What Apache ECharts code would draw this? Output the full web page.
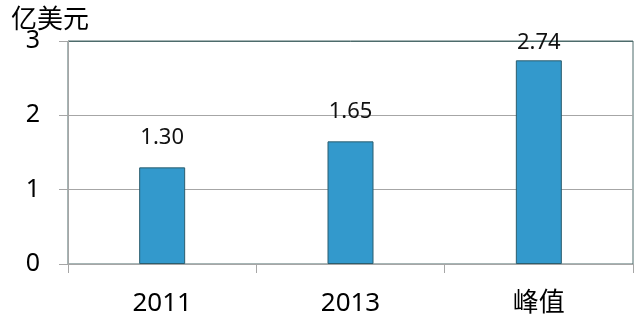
<!DOCTYPE html>
<html>
<head>
<meta charset="utf-8">
<script src="https://cdn.jsdelivr.net/npm/echarts@6/dist/echarts.min.js"></script>
<style>
  html, body { margin: 0; padding: 0; background: #fff; }
  #chart { width: 644px; height: 329px; }
</style>
</head>
<body>
<div id="chart"></div>
<script>
const categories = ['2011', '2013', '峰值'];
const values = [1.30, 1.65, 2.74];
const yTicks = [0, 1, 2, 3];

const font = '"Noto Sans", "Noto Sans CJK SC", sans-serif';

const chart = echarts.init(document.getElementById('chart'));
chart.setOption({
  animation: false,
  backgroundColor: '#fff',
  title: {
    text: '亿美元',
    left: 6,
    top: 3,
    textStyle: { fontFamily: font, fontSize: 26, fontWeight: 'normal', color: '#000' },
  },
  grid: {
    left: 68,
    right: 11,
    top: 41,
    bottom: 65,
    show: true,
    borderColor: '#4d6b6b',
    borderWidth: 1,
  },
  xAxis: {
    type: 'category',
    data: categories,
    axisLine: { lineStyle: { color: '#a6a6a6' } },
    axisTick: { show: true, length: 9, lineStyle: { color: '#a6a6a6' } },
    axisLabel: { color: '#000', fontSize: 26, fontFamily: font, margin: 27 },
  },
  yAxis: {
    type: 'value',
    min: yTicks[0],
    max: yTicks[yTicks.length - 1],
    interval: 1,
    axisLine: { show: true, lineStyle: { color: '#a6a6a6' } },
    axisTick: { show: true, length: 9, lineStyle: { color: '#a6a6a6' } },
    axisLabel: { color: '#000', fontSize: 25, fontFamily: font, margin: 28 },
    splitLine: { lineStyle: { color: ['#a6a6a6', '#a6a6a6', '#a6a6a6', '#4d6b6b'] } },
  },
  series: [
    {
      type: 'bar',
      barWidth: 46,
      data: values.map((v, i) => ({
        value: v,
        // the top bar's label is squeezed against the plot edge in the original
        label: i === values.length - 1 ? { distance: 7 } : undefined,
      })),
      itemStyle: { color: '#3399cc', borderColor: '#2b5d6e', borderWidth: 1 },
      label: {
        show: true,
        position: 'top',
        distance: 19,
        color: '#111',
        fontSize: 22,
        fontFamily: font,
        formatter: (p) => p.value.toFixed(2),
      },
    },
  ],
});
</script>
</body>
</html>
